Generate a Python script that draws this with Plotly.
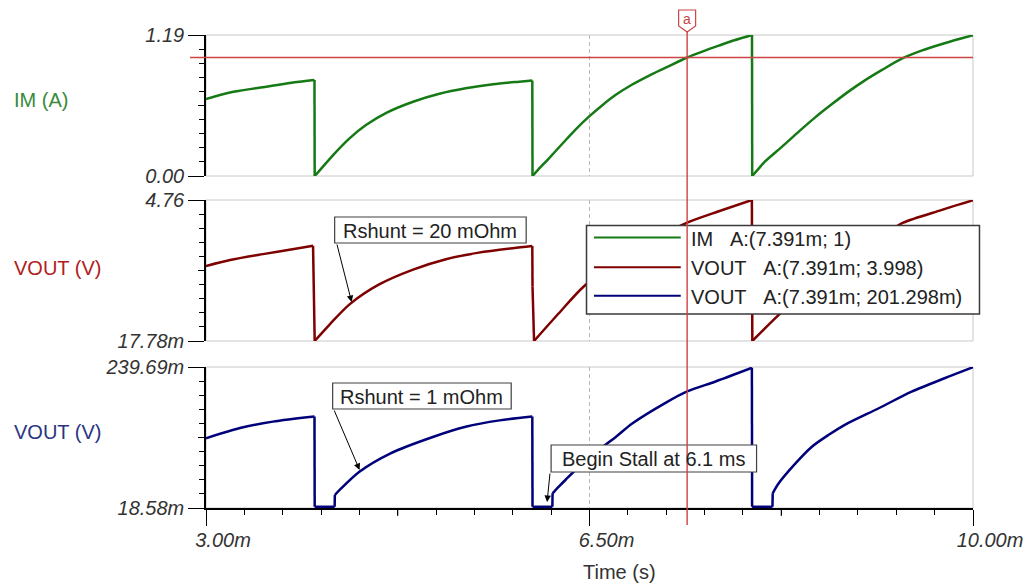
import numpy as np
import plotly.graph_objects as go

# ---------------- data (time in ms) ----------------
im_t = [3.00, 3.25, 3.55, 3.85, 3.990, 3.992, 4.04, 4.16, 4.31, 4.46, 4.65, 4.89, 5.13, 5.37, 5.62, 5.86, 5.978,
        5.980, 6.03, 6.13, 6.25, 6.37, 6.50, 6.62, 6.74, 6.89, 7.04, 7.19, 7.391, 7.53, 7.68, 7.83, 7.983,
        7.985, 8.04, 8.10, 8.26, 8.41, 8.56, 8.71, 8.86, 9.01, 9.17, 9.35, 9.53, 9.71, 9.89, 10.00]
im_v = [0.650, 0.711, 0.754, 0.795, 0.810, 0.000, 0.050, 0.177, 0.318, 0.430, 0.535, 0.627, 0.694, 0.740, 0.774, 0.796, 0.806,
        0.000, 0.052, 0.149, 0.270, 0.390, 0.505, 0.600, 0.685, 0.772, 0.846, 0.912, 1.000, 1.050, 1.100, 1.148, 1.190,
        0.000, 0.058, 0.121, 0.250, 0.375, 0.495, 0.605, 0.710, 0.805, 0.895, 0.990, 1.058, 1.112, 1.160, 1.188]

v20_t = [3.00, 3.22, 3.52, 3.83, 3.977, 3.992, 4.13, 4.31, 4.58, 4.89, 5.19, 5.49, 5.80, 5.978, 5.980, 5.994,
         6.22, 6.45, 6.89, 7.19, 7.391, 7.68, 7.982, 7.986, 8.225, 8.56, 8.86, 9.17, 9.363, 9.71, 10.00]
v20_v = [2.54, 2.74, 2.94, 3.13, 3.22, 0.018, 0.58, 1.25, 1.92, 2.42, 2.77, 2.99, 3.14, 3.21, 1.84, 0.018,
         0.95, 1.86, 3.08, 3.63, 3.998, 4.38, 4.76, 0.018, 0.89, 1.98, 2.86, 3.55, 3.996, 4.42, 4.75]

v1_t = [3.00, 3.31, 3.61, 3.990, 3.992, 4.174, 4.176, 4.22, 4.40, 4.68, 5.07, 5.37, 5.68, 5.978,
        5.980, 6.161, 6.163, 6.22, 6.28, 6.50, 6.74, 6.89, 7.19, 7.391, 7.65, 7.982,
        7.984, 8.170, 8.172, 8.225, 8.38, 8.53, 8.68, 8.83, 9.14, 9.44, 9.74, 10.00]
v1_v = [0.128, 0.144, 0.154, 0.162, 0.0205, 0.0205, 0.039, 0.047, 0.0755, 0.104, 0.130, 0.146, 0.156, 0.162,
        0.0205, 0.0205, 0.0416, 0.052, 0.0625, 0.099, 0.130, 0.151, 0.183, 0.2013, 0.217, 0.2385,
        0.0205, 0.0205, 0.0416, 0.057, 0.0886, 0.1147, 0.133, 0.149, 0.175, 0.201, 0.222, 0.2393]

x_range = [3.0, 10.0]
x_tickvals = [3.0, 6.5, 10.0]
x_ticktext = ["3.00m", "6.50m", "10.00m"]
x_medium_ticks = [4.75, 8.25]

im_range = [0.0, 1.19]
im_ticktext = ["0.00", "1.19"]
v20_range = [0.01778, 4.76]
v20_ticktext = ["17.78m", "4.76"]
v1_range = [0.01858, 0.23969]
v1_ticktext = ["18.58m", "239.69m"]

panel_labels = ["IM (A)", "VOUT (V)", "VOUT (V)"]
series_names = ["IM", "VOUT", "VOUT"]
cursor_t = 7.391
cursor_label = "7.391m"
cursor_vals = ["1", "3.998", "201.298m"]
im_cursor = 1.0
notes = ["Rshunt = 20 mOhm", "Rshunt = 1 mOhm", "Begin Stall at 6.1 ms"]
x_title = "Time (s)"

# ---------------- styling / geometry ----------------
FONT = "Liberation Sans, Arial, sans-serif"
GREEN, RED, NAVY = "#157A15", "#7E0000", "#00007A"
GREEN_L, RED_L, NAVY_L = "#3A8A3A", "#B02020", "#2A3580"
CUR = "#CC4444"
FRAME = "#C8C8C8"

W, H = 1035, 584
L, R, T, B = 206, 975, 35, 508


def px(x):
    return (x - L) / (R - L)


def py(y):
    return (B - y) / (B - T)


dom_top = [py(176), py(35)]
dom_mid = [py(341), py(200)]
dom_bot = [py(508), py(367)]

tickfont = dict(family=FONT, size=20, color="#333333", style="italic")


def yax(domain, rng, ticktext, anchor):
    return dict(domain=domain, range=rng, anchor=anchor, showgrid=False, zeroline=False,
                showline=True, linecolor="black", linewidth=1.5,
                ticks="outside", ticklen=16, tickwidth=1.2, tickcolor="black",
                tickmode="array", tickvals=rng, ticktext=ticktext, tickfont=tickfont,
                minor=dict(tickmode="array", tickvals=list(np.linspace(rng[0], rng[1], 11)[1:-1]),
                           ticks="outside", ticklen=5, tickcolor="black", tickwidth=1, showgrid=False),
                fixedrange=True)


def split_series(t, v, jump=0.02):
    """Smooth pieces (between switching instants) and the vertical switching edges."""
    sx, sy, jx, jy = [], [], [], []
    for i in range(len(t)):
        sx.append(t[i]); sy.append(v[i])
        if i + 1 < len(t) and t[i + 1] - t[i] < jump:
            sx.append(None); sy.append(None)
            jx += [t[i], t[i + 1], None]; jy += [v[i], v[i + 1], None]
    return sx, sy, jx, jy


grid = dict(showgrid=True, gridcolor="#B8B8B8", griddash="4px,3px", gridwidth=1)

fig = go.Figure()
for t, v, col, xa, ya in [(im_t, im_v, GREEN, "x3", "y3"),
                          (v20_t, v20_v, RED, "x2", "y2"),
                          (v1_t, v1_v, NAVY, "x", "y")]:
    sx, sy, jx, jy = split_series(t, v)
    fig.add_trace(go.Scatter(x=sx, y=sy, mode="lines", connectgaps=False,
                             line=dict(color=col, width=2.5, shape="spline", smoothing=0.8),
                             xaxis=xa, yaxis=ya, showlegend=False, hoverinfo="skip"))
    fig.add_trace(go.Scatter(x=jx, y=jy, mode="lines", connectgaps=False,
                             line=dict(color=col, width=2.5),
                             xaxis=xa, yaxis=ya, showlegend=False, hoverinfo="skip"))

layout = dict(
    width=W, height=H,
    margin=dict(l=L, r=W - R, t=T, b=H - B, pad=0),
    paper_bgcolor="white", plot_bgcolor="white",
    font=dict(family=FONT, size=20, color="#222222"),
    showlegend=False,
    xaxis=dict(domain=[0, 1], range=x_range, anchor="y", zeroline=False,
               showline=True, linecolor="black", linewidth=1.5,
               ticks="outside", ticklen=16, tickwidth=1.2, tickcolor="black",
               tickmode="array", tickvals=x_tickvals, ticktext=x_ticktext, tickfont=tickfont,
               ticklabelshift=17, ticklabelstandoff=-3,
               minor=dict(tick0=3.0, dtick=0.35, ticks="outside", ticklen=5, tickcolor="black",
                          tickwidth=1, showgrid=False),
               fixedrange=True, **grid),
    xaxis2=dict(matches="x", anchor="y2", range=x_range, showticklabels=False, ticks="",
                showline=False, zeroline=False, tickmode="array", tickvals=x_tickvals,
                fixedrange=True, **grid),
    xaxis3=dict(matches="x", anchor="y3", range=x_range, showticklabels=False, ticks="",
                showline=False, zeroline=False, tickmode="array", tickvals=x_tickvals,
                fixedrange=True, **grid),
    yaxis=yax(dom_bot, v1_range, v1_ticktext, "x"),
    yaxis2=yax(dom_mid, v20_range, v20_ticktext, "x2"),
    yaxis3=yax(dom_top, im_range, im_ticktext, "x3"),
)
fig.update_layout(**layout)

shapes = []
# panel frames
for yr in ["y", "y2", "y3"]:
    shapes.append(dict(type="rect", xref="paper", yref=yr + " domain", x0=0, x1=1, y0=0, y1=1,
                       line=dict(color=FRAME, width=1), layer="below"))
# medium ticks on y axes
for yr in ["y", "y2", "y3"]:
    shapes.append(dict(type="line", xref="paper", yref=yr + " domain", x0=px(198), x1=0, y0=0.5, y1=0.5,
                       line=dict(color="black", width=1)))
# medium ticks on x axis
for xv in x_medium_ticks:
    shapes.append(dict(type="line", xref="x", yref="paper", x0=xv, x1=xv, y0=0, y1=py(516),
                       line=dict(color="black", width=1)))
# horizontal cursor line in IM panel (at the cursor value of IM)
shapes.append(dict(type="line", xref="paper", yref="y3", x0=px(190), x1=1,
                   y0=im_cursor, y1=im_cursor,
                   line=dict(color=CUR, width=1.6), layer="above"))
# note boxes
boxes = [(335, 217, 527, 243), (333, 383, 512, 409), (552, 445, 758, 472)]
for (x0, y0, x1, y1) in boxes:
    shapes.append(dict(type="rect", xref="paper", yref="paper", x0=px(x0), x1=px(x1), y0=py(y1), y1=py(y0),
                       fillcolor="white", line=dict(color="#404040", width=1.2), layer="above"))
# legend box
shapes.append(dict(type="rect", xref="paper", yref="paper", x0=px(587.5), x1=px(981.5), y0=py(314), y1=py(225.5),
                   fillcolor="white", line=dict(color="#3A3A3A", width=1.5), layer="above"))
rows = [237.5, 267.3, 295.7]
for col, ry in zip([GREEN, RED, NAVY], rows):
    shapes.append(dict(type="line", xref="paper", yref="paper", x0=px(595), x1=px(682), y0=py(ry), y1=py(ry),
                       line=dict(color=col, width=2), layer="above"))
# vertical cursor + flag
shapes.append(dict(type="line", xref="x", yref="paper", x0=cursor_t, x1=cursor_t, y0=py(525), y1=py(31.5),
                   line=dict(color=CUR, width=1.4), layer="above"))
shapes.append(dict(type="path", xref="x", xsizemode="pixel", xanchor=cursor_t, yref="paper",
                   path=f"M-8.5,{py(10)} L8.5,{py(10)} L8.5,{py(26)} L0,{py(32)} L-8.5,{py(26)} Z",
                   fillcolor="white", line=dict(color=CUR, width=1.2), layer="above"))

annotations = []
# flag letter
annotations.append(dict(x=cursor_t, xref="x", y=py(19), yref="paper", text="a", showarrow=False,
                        font=dict(size=14, color=CUR), xanchor="center", yanchor="middle"))
# panel labels
for txt, col, yy in zip(panel_labels, [GREEN_L, RED_L, NAVY_L], [100, 268, 432]):
    annotations.append(dict(x=px(11), xref="paper", y=py(yy), yref="paper", text=txt, showarrow=False,
                            xanchor="left", yanchor="middle", font=dict(size=20, color=col)))
# x title
annotations.append(dict(x=px(621), xref="paper", y=py(572), yref="paper", text=x_title, showarrow=False,
                        xanchor="center", yanchor="middle", font=dict(size=20, color="#333333")))
# legend texts
sp = "\u00a0" * 3
for name, val, ry in zip(series_names, cursor_vals, rows):
    annotations.append(dict(x=px(690), xref="paper", y=py(ry + 1), yref="paper",
                            text=f"{name}{sp}A:({cursor_label}; {val})", showarrow=False,
                            xanchor="left", yanchor="middle", font=dict(size=20, color="#222222")))
# note texts
for txt, (x0, y0, x1, y1) in zip(notes, boxes):
    annotations.append(dict(x=px((x0 + x1) / 2), xref="paper", y=py((y0 + y1) / 2 + 0.5), yref="paper",
                            text=txt, showarrow=False, xanchor="center", yanchor="middle",
                            font=dict(size=20, color="#222222")))
# arrows (tail at box corner, head on curve)
arrows = [((337, 243), (352, 302)), ((334, 409), (360, 470)), ((551, 472), (548, 502))]
for (tx, ty), (hx, hy) in arrows:
    annotations.append(dict(x=px(hx), xref="paper", y=py(hy), yref="paper", text="",
                            showarrow=True, axref="pixel", ayref="pixel", ax=tx - hx, ay=ty - hy,
                            arrowhead=2, arrowsize=1.3, arrowwidth=1, arrowcolor="black", standoff=0))

fig.update_layout(shapes=shapes, annotations=annotations)
fig.write_html("out.html", config={"displayModeBar": False})
